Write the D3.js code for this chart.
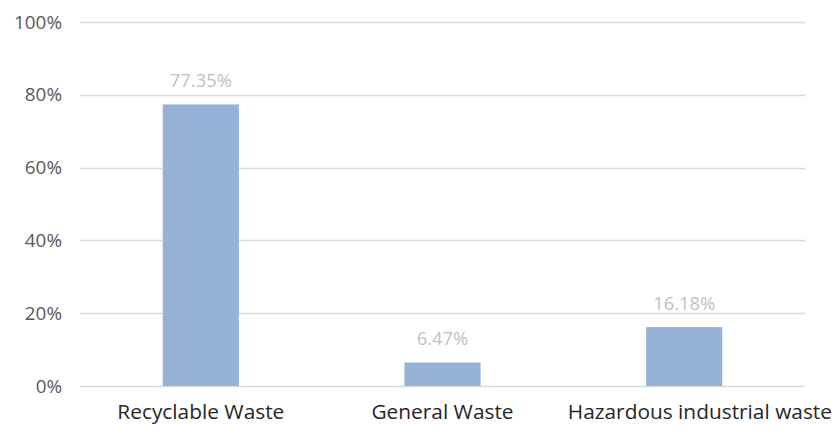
<!DOCTYPE html>
<html><head><meta charset="utf-8">
<script src="https://cdn.jsdelivr.net/npm/d3@7"></script>
<style>body{margin:0;background:#fff;}svg{display:block;}</style>
</head><body>
<svg id="c" width="834" height="426"></svg>
<script>
const categories = ["Recyclable Waste", "General Waste", "Hazardous industrial waste"];
const values = [77.35, 6.47, 16.18];
const yTicks = [0, 20, 40, 60, 80, 100];

const W = 834, H = 426;
const m = {left: 80, right: 29, top: 22, bottom: 40};
const svg = d3.select("#c");
const font = "'Open Sans', sans-serif";

const x = d3.scaleBand().domain(categories).range([m.left, W - m.right]).padding(0);
const y = d3.scaleLinear().domain([0, 100]).range([H - m.bottom, m.top]);
const barW = x.bandwidth() * 0.315;

function fitSize(text, target, base) {
  const t = svg.append("text").attr("font-family", font).attr("font-size", base).text(text);
  const w = t.node().getComputedTextLength();
  t.remove();
  return base * target / w;
}
const catSize = fitSize("Recyclable Waste", 167, 20);
const tickSize = fitSize("100%", 48, 18);
const lblSize = fitSize("77.35%", 62, 18);

// gridlines
svg.append("g").selectAll("line").data(yTicks).join("line")
  .attr("x1", m.left).attr("x2", W - m.right)
  .attr("y1", d => Math.round(y(d)) + 0.5).attr("y2", d => Math.round(y(d)) + 0.5)
  .attr("stroke", "#d9d9d9").attr("stroke-width", 1.3);

// y axis labels
svg.append("g").selectAll("text").data(yTicks).join("text")
  .attr("x", 62).attr("y", d => y(d)).attr("dy", "0.35em")
  .attr("text-anchor", "end").attr("font-family", font).attr("font-size", tickSize)
  .attr("fill", "#595959").text(d => d + "%");

// bars
svg.append("g").selectAll("rect").data(values).join("rect")
  .attr("x", (d, i) => x(categories[i]) + x.bandwidth() / 2 - barW / 2)
  .attr("width", barW)
  .attr("y", d => y(d)).attr("height", d => y(0) - y(d))
  .attr("fill", "#95b3d7");

// data labels
svg.append("g").selectAll("text").data(values).join("text")
  .attr("x", (d, i) => x(categories[i]) + x.bandwidth() / 2)
  .attr("y", d => y(d) - 17)
  .attr("text-anchor", "middle").attr("font-family", font).attr("font-size", lblSize)
  .attr("fill", "#bfbfbf").text(d => d.toFixed(2) + "%");

// category labels: labels wider than their band are pushed to the right edge
svg.append("g").selectAll("text").data(categories).join("text")
  .attr("y", 419)
  .attr("text-anchor", "middle").attr("font-family", font).attr("font-size", catSize)
  .attr("fill", "#262626").text(d => d)
  .attr("x", function(d) {
    const w = this.getComputedTextLength();
    const c = x(d) + x.bandwidth() / 2;
    return w > x.bandwidth() ? W - 2 - w / 2 : c;
  });
</script>
</body></html>
